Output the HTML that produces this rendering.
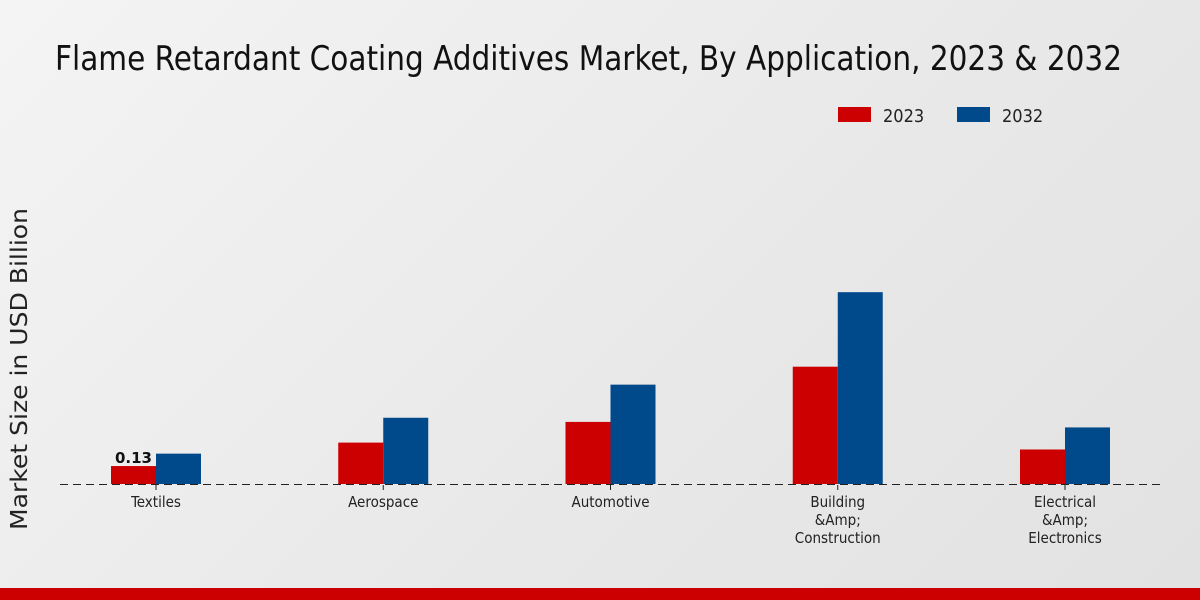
<!DOCTYPE html>
<html><head><meta charset="utf-8">
<style>
html,body{margin:0;padding:0;}
body{width:1200px;height:600px;overflow:hidden;background:linear-gradient(135deg,#f4f4f4 0%,#e8e8e8 60%,#e2e2e2 100%);font-family:"DejaVu Sans Condensed","DejaVu Sans","Liberation Sans",sans-serif;}
svg{display:block}
</style></head>
<body>
<svg id="chart" width="1200" height="600" xmlns="http://www.w3.org/2000/svg">
<text x="55" y="70" font-size="34" fill="#111" textLength="1067" lengthAdjust="spacingAndGlyphs" font-family="DejaVu Sans Condensed, DejaVu Sans, sans-serif">Flame Retardant Coating Additives Market, By Application, 2023 &amp; 2032</text>
<g>
<rect x="838" y="107" width="33" height="15" fill="#cc0000"/>
<text x="883" y="122" font-size="18" fill="#222">2023</text>
<rect x="957" y="107" width="33" height="15" fill="#004a8c"/>
<text x="1002" y="122" font-size="18" fill="#222">2032</text>
</g>
<text transform="translate(27,369) rotate(-90)" text-anchor="middle" font-size="23" fill="#222" textLength="322" lengthAdjust="spacingAndGlyphs" font-family="DejaVu Sans, sans-serif">Market Size in USD Billion</text>
<g id="bars"></g>
<line x1="60" y1="484.5" x2="1160" y2="484.5" stroke="#222" stroke-width="1" stroke-dasharray="8,5"/>
<g id="labels"></g>
<rect x="0" y="588" width="1200" height="12" fill="#cc0000"/>
</svg>
<script>
const categories=[["Textiles"],["Aerospace"],["Automotive"],["Building","&Amp;","Construction"],["Electrical","&Amp;","Electronics"]];
const values2023=[0.13,0.30,0.45,0.85,0.25];
const values2032=[0.22,0.48,0.72,1.39,0.41];
const valueLabels=["0.13","","","",""];
const NS="http://www.w3.org/2000/svg";
const baseY=484, pxPerUnit=138, firstX=156, step=227.25, bw=45;
const y=v=>baseY-v*pxPerUnit;
const xc=i=>firstX+i*step;
const bars=document.getElementById('bars'), labels=document.getElementById('labels');
function mk(t,a){const e=document.createElementNS(NS,t);for(const k in a)e.setAttribute(k,a[k]);return e;}
categories.forEach((c,i)=>{
  const r=mk('rect',{x:xc(i)-bw,y:y(values2023[i]),width:bw,height:baseY-y(values2023[i]),fill:'#cc0000'});
  
  
  bars.appendChild(r);
  const b=mk('rect',{x:xc(i),y:y(values2032[i]),width:bw,height:baseY-y(values2032[i]),fill:'#004a8c'});
  
  
  bars.appendChild(b);
  if(valueLabels[i]){
    const t=mk('text',{x:xc(i)-bw/2,y:y(values2023[i])-3,'text-anchor':'middle','font-size':15,'font-weight':'bold',fill:'#111','font-family':'DejaVu Sans, sans-serif'});
    t.textContent=valueLabels[i];
    
    
    labels.appendChild(t);
  }
  const tk=mk('line',{x1:xc(i),y1:485,x2:xc(i),y2:490,stroke:'#222'});
  
  
  labels.appendChild(tk);
  c.forEach((ln,j)=>{
    const t=mk('text',{x:xc(i),y:507+j*18,'text-anchor':'middle','font-size':15,fill:'#222'});
    t.textContent=ln;
    
    
    labels.appendChild(t);
  });
});
</script>
</body></html>
